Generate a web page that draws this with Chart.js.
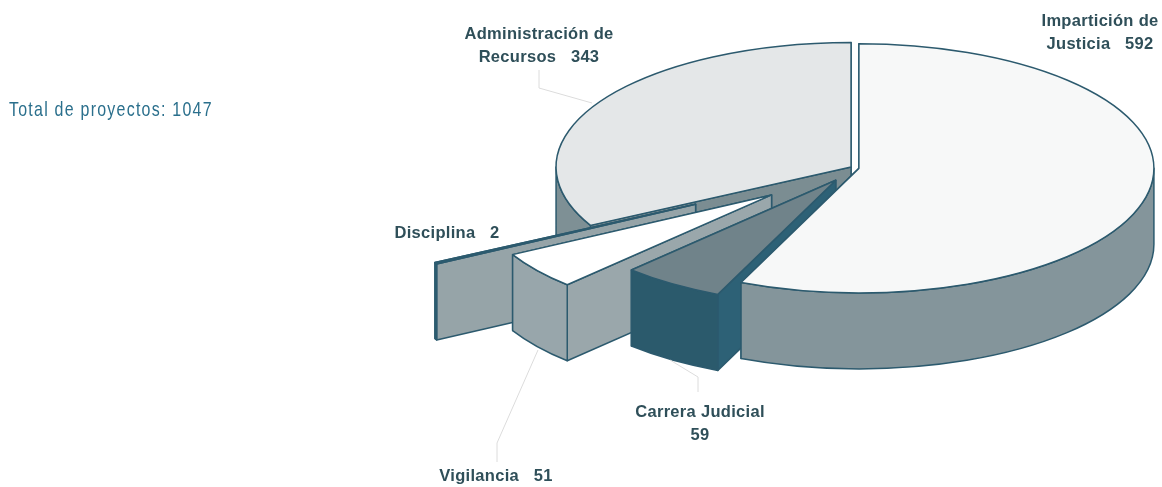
<!DOCTYPE html>
<html lang="es">
<head>
<meta charset="utf-8">
<title>Proyectos</title>
<script src="https://cdn.jsdelivr.net/npm/chart.js@4"></script>
<style>html,body{margin:0;padding:0;background:#fff}canvas{display:block}</style>
</head>
<body>
<canvas id="c" width="1162" height="487"></canvas>
<script>
// Data (clockwise from 12 o'clock)
const categories = ["Impartición de Justicia", "Carrera Judicial", "Vigilancia", "Disciplina", "Administración de Recursos"];
const values = [592, 59, 51, 2, 343];
const totalLabel = "Total de proyectos: 1047";

// Styling
const topColors  = ["#f7f8f8", "#70838a", "#ffffff", "#2b6076", "#e4e7e8"];
const wallColors = ["#84959b", "#2b5a6c", "#98a6ab", "#2b6076", "#7e9095"];
const faceColors = ["#84959b", "#2d6176", "#9aa7ab", "#96a4a8", "#7b8d92"];
const explode = [4, 34.7, 105, 181, 4.6];
const paintOrder = [4, 3, 2, 1, 0];
const squash = 0.4223, depth = 76, edge = "#2c5a6e", RADIUS = 295;

const labelSpecs = [
  {i:4, lines:["Administración de", "Recursos   " + values[4]], x:539, y:39},
  {i:0, lines:["Impartición de", "Justicia   " + values[0]], x:1100, y:26},
  {i:3, lines:["Disciplina   " + values[3]], x:447, y:238},
  {i:1, lines:["Carrera Judicial", "" + values[1]], x:700, y:417},
  {i:2, lines:["Vigilancia   " + values[2]], x:496, y:481}
];
const leaders = [
  [[539,70],[539,88],[592,103]],
  [[538,350],[497,443],[497,462]],
  [[670,360],[698,377],[698,392]]
];

const pie3d = {
  id: "pie3d",
  beforeDatasetsDraw(chart) {
    const ctx = chart.ctx, arcs = chart.getDatasetMeta(0).data;
    ctx.save();
    ctx.lineJoin = "round";
    ctx.lineWidth = 1.5;
    ctx.strokeStyle = edge;
    for (const i of paintOrder) {
      const a = arcs[i], s = a.startAngle, e = a.endAngle, mid = (s + e) / 2;
      const cx = a.x + explode[i] * Math.cos(mid);
      const cy = a.y + squash * explode[i] * Math.sin(mid);
      const R = a.outerRadius, ry = R * squash;
      const P = (ang, d) => [cx + R * Math.cos(ang), cy + ry * Math.sin(ang) + d];
      // radial faces
      for (const ang of [e, s]) {
        const p0 = P(ang, 0), p1 = P(ang, depth);
        ctx.beginPath();
        ctx.moveTo(cx, cy); ctx.lineTo(p0[0], p0[1]); ctx.lineTo(p1[0], p1[1]); ctx.lineTo(cx, cy + depth);
        ctx.closePath();
        ctx.fillStyle = faceColors[i];
        ctx.fill(); ctx.stroke();
      }
      // outer wall, front half only
      const w0 = Math.max(s, 0), w1 = Math.min(e, Math.PI);
      if (w0 < w1) {
        ctx.beginPath();
        ctx.ellipse(cx, cy, R, ry, 0, w0, w1);
        ctx.ellipse(cx, cy + depth, R, ry, 0, w1, w0, true);
        ctx.closePath();
        ctx.fillStyle = wallColors[i];
        ctx.fill(); ctx.stroke();
      }
      // top drawn by the library's arc element under a squash transform
      ctx.save();
      ctx.translate(cx, cy);
      ctx.scale(1, squash);
      ctx.translate(-a.x, -a.y);
      a.draw(ctx);
      ctx.restore();
      ctx.beginPath();
      ctx.moveTo(cx, cy);
      ctx.ellipse(cx, cy, R, ry, 0, s, e);
      ctx.closePath();
      ctx.stroke();
    }
    ctx.restore();
    return false;
  },
  afterDraw(chart) {
    const ctx = chart.ctx;
    ctx.save();
    ctx.strokeStyle = "#dcdcdc";
    ctx.lineWidth = 1;
    for (const l of leaders) {
      ctx.beginPath();
      l.forEach((p, n) => n ? ctx.lineTo(p[0], p[1]) : ctx.moveTo(p[0], p[1]));
      ctx.stroke();
    }
    ctx.fillStyle = "#2f4f59";
    ctx.font = "bold 16.5px 'Liberation Sans'";
    ctx.letterSpacing = "0.3px";
    ctx.textAlign = "center";
    ctx.textBaseline = "alphabetic";
    for (const sp of labelSpecs) {
      sp.lines.forEach((t, n) => ctx.fillText(t, sp.x, sp.y + n * 23));
    }
    ctx.textAlign = "left";
    ctx.fillStyle = "#2a6f8c";
    ctx.font = "21px 'Liberation Sans'";
    ctx.letterSpacing = "1.64px";
    ctx.translate(9, 116);
    ctx.scale(0.76, 1);
    ctx.fillText(totalLabel, 0, 0);
    ctx.restore();
  }
};

new Chart(document.getElementById("c"), {
  type: "pie",
  data: {
    labels: categories,
    datasets: [{ data: values, backgroundColor: topColors, borderWidth: 0 }]
  },
  options: {
    responsive: false,
    animation: false,
    radius: RADIUS,
    layout: { padding: { left: 548, right: 0, top: 0, bottom: 151 } },
    plugins: { legend: { display: false }, tooltip: { enabled: false } }
  },
  plugins: [pie3d]
});
</script>
</body>
</html>
